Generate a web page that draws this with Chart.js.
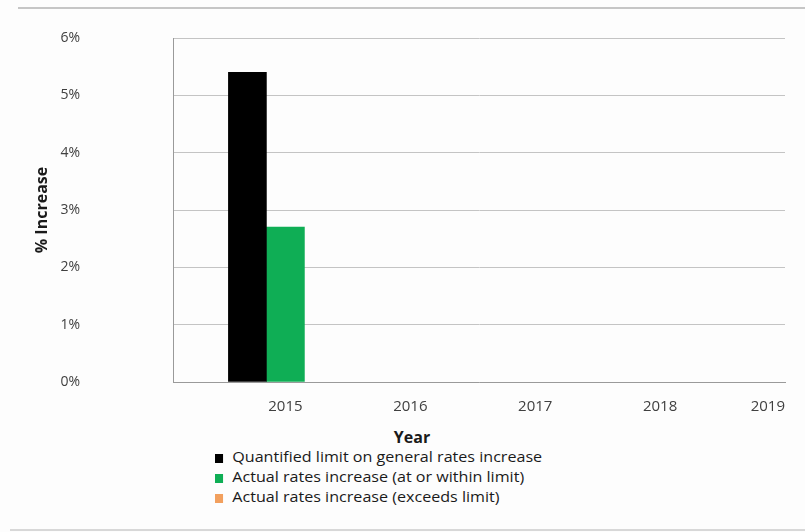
<!DOCTYPE html>
<html>
<head>
<meta charset="utf-8">
<script src="https://cdn.jsdelivr.net/npm/chart.js@4"></script>
<style>
  html, body { margin: 0; padding: 0; background: #fdfdfd; }
  #page { position: relative; width: 805px; height: 532px; overflow: hidden; font-family: "Open Sans", sans-serif; }
  #wrap { position: absolute; left: 0; top: 0; width: 805px; height: 420px; }
  .rule { position: absolute; height: 2px; background: #c6c6c6; }
  #xtitle { position: absolute; left: 372px; top: 426px; width: 80px; text-align: center; font-weight: bold; font-size: 16px; color: #1a1a1a; }
  #legend { position: absolute; left: 215px; top: 447px; font-size: 14px; color: #1a1a1a; transform: scaleX(1.15); transform-origin: 0 0; }
  #legend div { height: 20px; line-height: 19px; white-space: nowrap; }
  #legend span.box { display: inline-block; width: 7px; height: 9px; margin-right: 8px; vertical-align: -1px; }
</style>
</head>
<body>
<div id="page">
  <div class="rule" style="left:18px; right:0; top:7px;"></div>
  <div id="wrap"><canvas id="chart"></canvas></div>
  <div id="xtitle">Year</div>
  <div id="legend"></div>
  <div class="rule" style="left:10px; right:0; top:529px; background:#d8d8d8;"></div>
</div>
<script>
// categories and values (% increase)
const years = [2015, 2016, 2017, 2018, 2019];
const limitValues = [5.4, null, null, null, null];
const withinValues = [2.7, null, null, null, null];
const exceedsValues = [null, null, null, null, null];

const seriesNames = [
    "Quantified limit on general rates increase",
    "Actual rates increase (at or within limit)",
    "Actual rates increase (exceeds limit)"
];
const seriesColors = ["#000000", "#0fae55", "#f2a05e"];

const yTicks = [0, 1, 2, 3, 4, 5, 6];

const toPoints = (vals) => years.map((y, i) => ({ x: y, y: vals[i] }));

const ctx = document.getElementById("chart");

const chart = new Chart(ctx, {
    type: "bar",
    data: {
        datasets: [
            { label: seriesNames[0], data: toPoints(limitValues), backgroundColor: seriesColors[0] },
            { label: seriesNames[1], data: toPoints(withinValues), backgroundColor: seriesColors[1] },
            { label: seriesNames[2], data: toPoints(exceedsValues), backgroundColor: seriesColors[2] }
        ]
    },
    options: {
        responsive: true,
        maintainAspectRatio: false,
        animation: false,
        layout: { padding: { left: 29, right: 20, top: 38, bottom: 0 } },
        datasets: { bar: { barThickness: 38 } },
        plugins: {
            legend: { display: false },
            tooltip: { enabled: false }
        },
        scales: {
            x: {
                type: "linear",
                offset: false,
                min: 2014.1,
                max: years[years.length - 1],
                grid: { display: false, drawTicks: false },
                border: { color: "#9a9a9a", width: 1 },
                ticks: {
                    stepSize: 1,
                    align: "inner",
                    padding: 16,
                    color: "#404040",
                    font: { family: "Open Sans", size: 15 },
                    callback: (v) => years.includes(v) ? String(v) : ""
                },
                afterFit: (s) => {
                    s.height = 38;
                    s.paddingLeft = 0;
                    s.paddingRight = 0;
                }
            },
            y: {
                min: yTicks[0],
                max: yTicks[yTicks.length - 1],
                grid: { color: "#c4c4c4", drawTicks: false },
                border: { color: "#9a9a9a", width: 1 },
                ticks: {
                    stepSize: 1,
                    padding: 93,
                    color: "#404040",
                    font: { family: "Open Sans", size: 14 },
                    callback: (v) => v + "%"
                },
                title: {
                    display: true,
                    text: "% Increase",
                    color: "#1a1a1a",
                    font: { family: "Open Sans", size: 16, weight: "bold" }
                },
                afterFit: (s) => {
                    s.width = 144;
                    s.paddingTop = 8;
                    s.paddingBottom = 8;
                }
            }
        }
    }
});

// html legend, one item per row
const legendEl = document.getElementById("legend");
chart.data.datasets.forEach((ds) => {
    const row = document.createElement("div");
    const box = document.createElement("span");
    box.className = "box";
    box.style.background = ds.backgroundColor;
    row.appendChild(box);
    row.appendChild(document.createTextNode(ds.label));
    legendEl.appendChild(row);
});
</script>
</body>
</html>
